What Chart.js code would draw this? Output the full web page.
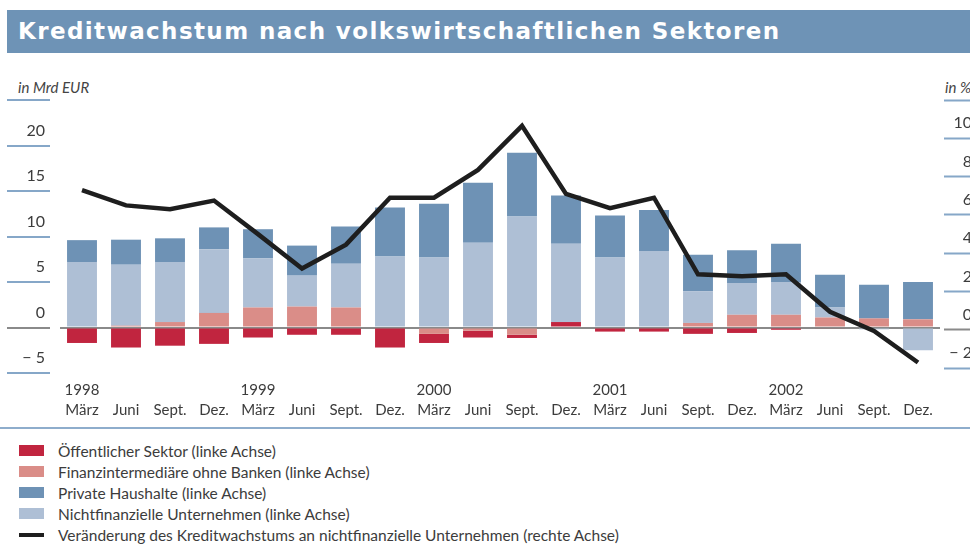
<!DOCTYPE html>
<html>
<head>
<meta charset="utf-8">
<script src="https://cdn.jsdelivr.net/npm/chart.js@4.4.1/dist/chart.umd.min.js"></script>
<style>
  body{margin:0;width:970px;height:552px;overflow:hidden;background:#fff;position:relative;font-family:Lato,sans-serif;color:#3c3c3c}
  #title{position:absolute;left:7px;top:10px;width:963px;height:43px;background:#6e93b6;color:#fff;
    font:bold 23px "DejaVu Sans",sans-serif;letter-spacing:1.4px;line-height:43px;padding-left:11px;box-sizing:border-box;white-space:nowrap}
  .unit{position:absolute;top:78px;font-style:italic;font-size:15px;color:#444;white-space:nowrap}
  #wrap{position:absolute;left:0;top:0;width:972px;height:432px}
  #rule{position:absolute;left:0;top:427px;width:970px;height:2px;background:#8eadcc}
  #legend{position:absolute;left:19px;top:440px;font-size:15.5px;color:#3c3c3c}
  .row{height:21px;display:flex;align-items:center;white-space:nowrap}
  .sw{width:25px;margin-right:14px;flex:none}
</style>
</head>
<body>
<div id="title">Kreditwachstum nach volkswirtschaftlichen Sektoren</div>
<div class="unit" style="left:18px">in Mrd EUR</div>
<div class="unit" style="left:945px">in %</div>
<div id="wrap"><canvas id="chart" width="972" height="432"></canvas></div>
<div id="rule"></div>
<div id="legend"></div>
<script>
const YEARS = ['1998','1999','2000','2001','2002'];
const MONTHS = ['März','Juni','Sept.','Dez.'];

// Mrd EUR, linke Achse
const FINANZ = [0, 0.2, 0.6, 1.6, 2.2, 2.3, 2.2, 0, -0.7, -0.35, -0.8, 0, 0, 0, 0.5, 1.4, 1.4, 1.1, 1.0, 0.9];
const OEFFENTLICH = [-1.7, -2.2, -2.0, -1.8, -1.1, -0.8, -0.8, -2.2, -1.0, -0.75, -0.35, 0.6, -0.45, -0.45, -0.7, -0.6, -0.25, -0.1, 0, 0];
const NICHTFIN = [7.2, 6.7, 6.6, 7.0, 5.4, 3.4, 4.8, 7.8, 7.7, 9.3, 12.2, 8.6, 7.7, 8.4, 3.5, 3.5, 3.6, 1.1, -0.2, -2.5];
const HAUSHALTE = [2.4, 2.75, 2.6, 2.4, 3.2, 3.3, 4.1, 5.4, 5.9, 6.6, 7.0, 5.3, 4.6, 4.5, 4.0, 3.6, 4.2, 3.6, 3.7, 4.1];
// in %, rechte Achse
const VERAENDERUNG = [7.3, 6.5, 6.3, 6.75, 5.0, 3.2, 4.45, 6.9, 6.9, 8.35, 10.65, 7.1, 6.35, 6.9, 2.9, 2.8, 2.9, 0.95, -0.05, -1.7];

const LEFT_TICKS = [-5, 0, 5, 10, 15, 20, 25];
const RIGHT_TICKS = [-2, 0, 2, 4, 6, 8, 10, 12];

const labels = YEARS.flatMap(y => MONTHS.map((m, i) => [i === 0 ? y : '', m]));

const C_OEFF = '#c1253f', C_FIN = '#da8d88', C_PH = '#6e92b5', C_NF = '#aebfd5', C_LINE = '#1e1e1e';
const TICK_BLUE = '#86a7c8', ZERO = '#8a8a8a';

const fmt = v => v < 0 ? '\u2212 ' + Math.abs(v) : String(v);

const datasets = [
  {label:'Finanzintermediäre ohne Banken (linke Achse)', data:FINANZ, backgroundColor:C_FIN},
  {label:'Öffentlicher Sektor (linke Achse)', data:OEFFENTLICH, backgroundColor:C_OEFF},
  {label:'Nichtfinanzielle Unternehmen (linke Achse)', data:NICHTFIN, backgroundColor:C_NF},
  {label:'Private Haushalte (linke Achse)', data:HAUSHALTE, backgroundColor:C_PH}
].map(d => Object.assign(d, {type:'bar', yAxisID:'y', order:1, barPercentage:0.68, categoryPercentage:1}));

datasets.push({
  type:'line', label:'Veränderung des Kreditwachstums an nichtfinanzielle Unternehmen (rechte Achse)',
  data:VERAENDERUNG, yAxisID:'y1', order:0, borderColor:C_LINE, borderWidth:4.5,
  pointRadius:0, tension:0, fill:false
});

const chart = new Chart(document.getElementById('chart').getContext('2d'), {
  data:{labels, datasets},
  options:{
    responsive:false, animation:false, devicePixelRatio:1,
    layout:{padding:{top:100, left:0, right:0, bottom:0}},
    plugins:{legend:{display:false}, tooltip:{enabled:false}},
    scales:{
      x:{
        stacked:true, offset:true,
        grid:{display:false, drawTicks:false}, border:{display:false},
        ticks:{autoSkip:false, maxRotation:0, padding:7, color:'#3c3c3c',
          font:{family:'Lato', size:15, lineHeight:1.33}},
        afterFit: s => { s.height = 432 - 373; }
      },
      y:{
        stacked:true, position:'left', min:-5, max:25, z:1,
        afterBuildTicks: s => { s.ticks = LEFT_TICKS.map(v => ({value:v})); },
        afterFit: s => { s.width = 60; },
        border:{display:false},
        grid:{
          color: c => c.tick && c.tick.value === 0 ? ZERO : 'rgba(0,0,0,0)',
          lineWidth:2, tickLength:53, tickWidth:2, tickBorderDash:[43, 40],
          tickColor: c => c.tick && c.tick.value === 0 ? ZERO : TICK_BLUE
        },
        ticks:{padding:-38, labelOffset:-15, color:'#3c3c3c', font:{family:'Lato', size:16},
          callback: v => v === 25 ? '' : fmt(v)}
      },
      y1:{
        position:'right', min:-2.25, max:12,
        afterBuildTicks: s => { s.ticks = RIGHT_TICKS.map(v => ({value:v})); },
        afterFit: s => { s.width = 32; },
        border:{display:false},
        grid:{
          drawOnChartArea:false, tickLength:32, tickWidth:2, tickBorderDash:[0, 4, 100, 0],
          tickColor: c => c.tick && c.tick.value === 0 ? ZERO : TICK_BLUE
        },
        ticks:{crossAlign:'far', labelOffset:-15, color:'#3c3c3c', font:{family:'Lato', size:16},
          callback: v => v === 12 ? '' : fmt(v)}
      }
    }
  }
});

// legend in the order of the original
const legendOrder = [1, 0, 3, 2, 4];
const leg = document.getElementById('legend');
legendOrder.forEach(i => {
  const ds = chart.data.datasets[i];
  const row = document.createElement('div');
  row.className = 'row';
  const sw = document.createElement('span');
  sw.className = 'sw';
  if (ds.type === 'line') { sw.style.height = '4px'; sw.style.background = ds.borderColor; }
  else { sw.style.height = '11px'; sw.style.background = ds.backgroundColor; }
  const tx = document.createElement('span');
  tx.textContent = ds.label;
  row.appendChild(sw); row.appendChild(tx);
  leg.appendChild(row);
});
</script>
</body>
</html>
